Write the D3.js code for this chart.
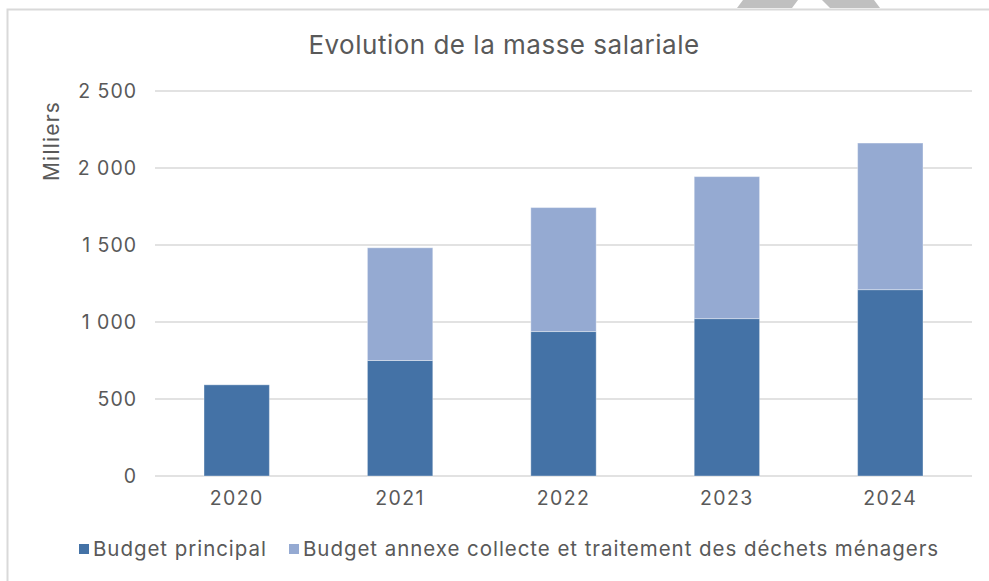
<!DOCTYPE html>
<html><head><meta charset="utf-8">
<script src="https://cdn.jsdelivr.net/npm/d3@7"></script>
<style>
html,body{margin:0;padding:0;background:#fff;}
svg{display:block;font-family:"Inter","Open Sans",sans-serif;}
</style></head>
<body><svg id="c" width="989" height="581"></svg>
<script>
const years = ["2020","2021","2022","2023","2024"];
const budgetPrincipal = [592, 750, 938, 1022, 1210];
const budgetAnnexe = [0, 732, 805, 922, 952];
const seriesNames = ["Budget principal","Budget annexe collecte et traitement des déchets ménagers"];
const colors = ["#4472a6","#95aad2"];
const yTicks = [0,500,1000,1500,2000,2500];

const svg = d3.select("#c");
const textColor = "#595959";
const FONT = "Inter";

// frame
svg.append("path").attr("d","M7.5,581 V9.5 H989").attr("fill","none").attr("stroke","#d9d9d9").attr("stroke-width",2);
// decoration at top
svg.append("polygon").attr("points","737,8 743,0 798,0 792,8").attr("fill","#c0c0c0");
svg.append("polygon").attr("points","830,8 822,0 874,0 880,8").attr("fill","#c0c0c0");

const x = d3.scaleBand().domain(years).range([155,972]).paddingInner(0.6).paddingOuter(0.3);
const y = d3.scaleLinear().domain([0,2500]).range([476,91]);

// grid
svg.append("g").selectAll("line").data(yTicks).join("line")
  .attr("x1",155).attr("x2",972).attr("y1",d=>y(d)).attr("y2",d=>y(d))
  .attr("stroke","#d9d9d9").attr("stroke-width",1.5);

const fmt = d => d3.format(",")(d).replace(/,/g," ");
const yAxis = svg.append("g").attr("transform","translate(137,0)")
  .call(d3.axisLeft(y).tickValues(yTicks).tickSize(0).tickPadding(0).tickFormat(fmt));
yAxis.select(".domain").remove();
yAxis.selectAll("text").attr("fill",textColor).attr("font-size",19.5).attr("font-family",FONT)
  .attr("letter-spacing","1px").attr("dy","0.35em");

const stackData = years.map((yr,i)=>({year:yr, a:budgetPrincipal[i], b:budgetAnnexe[i]}));
const stack = d3.stack().keys(["a","b"])(stackData);
svg.append("g").selectAll("g").data(stack).join("g")
  .attr("fill",(d,i)=>colors[i])
  .selectAll("rect").data(d=>d.filter(p=>p[1]-p[0]>0)).join("rect")
  .attr("x",d=>x(d.data.year)).attr("width",x.bandwidth())
  .attr("y",d=>y(d[1])).attr("height",d=>y(d[0])-y(d[1]))
  .attr("stroke","rgba(255,255,255,0.35)").attr("stroke-width",1);

const xAxis = svg.append("g").attr("transform","translate(0,476)")
  .call(d3.axisBottom(x).tickSize(0).tickPadding(15));
xAxis.select(".domain").remove();
xAxis.selectAll("text").attr("fill",textColor).attr("font-size",19.5).attr("font-family",FONT)
  .attr("letter-spacing","1.4px");

// title
svg.append("text").attr("x",504).attr("y",54).attr("text-anchor","middle")
  .attr("fill",textColor).attr("font-size",26).attr("letter-spacing","0.5px").text("Evolution de la masse salariale");

// y label
svg.append("text").attr("transform","translate(59,141) rotate(-90)").attr("text-anchor","middle")
  .attr("fill",textColor).attr("font-size",21).attr("letter-spacing","1.2px").text("Milliers");

// legend
const legX = [79, 289];
const lg = svg.append("g").selectAll("g").data(seriesNames).join("g")
  .attr("transform",(d,i)=>`translate(${legX[i]},549)`);
lg.append("rect").attr("x",0).attr("y",-5).attr("width",10).attr("height",10).attr("fill",(d,i)=>colors[i]);
lg.append("text").attr("x",14).attr("y",0).attr("dy","0.35em").attr("fill",textColor).attr("font-size",20.5)
  .attr("letter-spacing","0.95px").text(d=>d);
</script></body></html>
